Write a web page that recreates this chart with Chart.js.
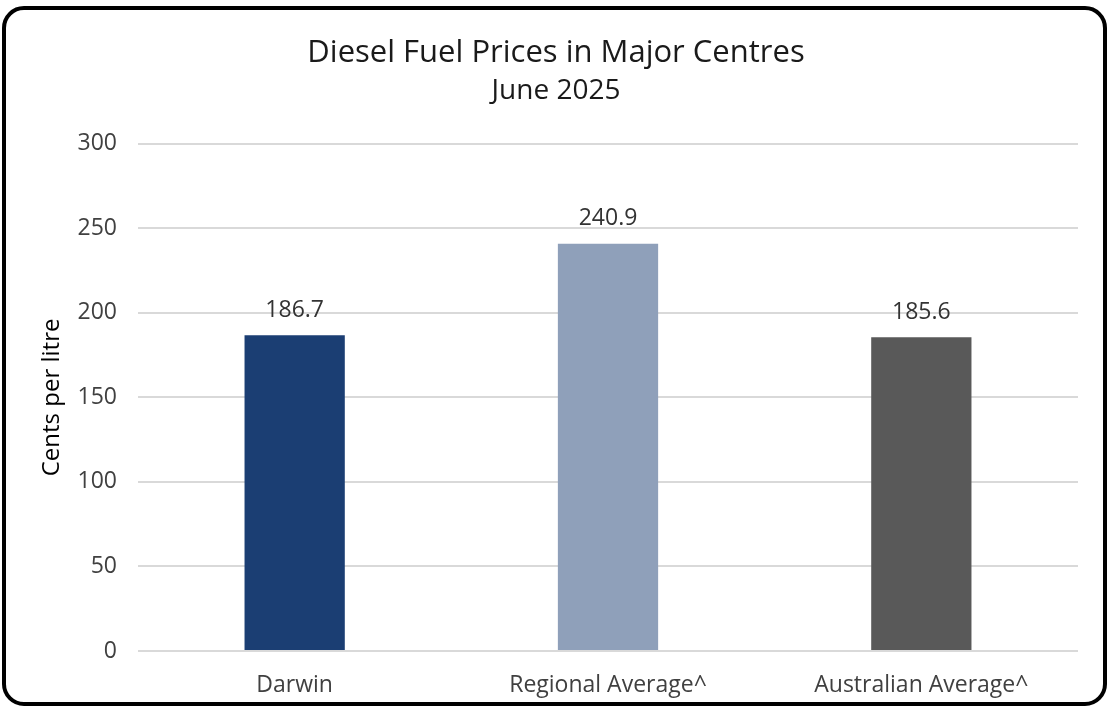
<!DOCTYPE html>
<html lang="en">
<head>
    <meta charset="UTF-8">
    <title>Diesel Fuel Prices in Major Centres</title>
    <script src="https://cdn.jsdelivr.net/npm/chart.js"></script>
    <style>
        body { margin: 0; background: #fff; }
        .wrap { position: absolute; left: 0; top: 0; width: 1110px; height: 711px; }
        .frame {
            position: absolute; left: 2px; top: 6px; width: 1105px; height: 700px;
            box-sizing: border-box; border: 4px solid #000; border-radius: 22px;
            pointer-events: none;
        }
    </style>
</head>
<body>
    <div class="wrap"><canvas id="fuelChart" width="1110" height="711"></canvas></div>
    <div class="frame"></div>
    <script>
        var centres = ['Darwin', 'Regional Average^', 'Australian Average^'];
        var prices = [186.7, 240.9, 185.6];
        var barColours = ['#1b3e73', '#8fa0ba', '#595959'];
        var yTicks = [0, 50, 100, 150, 200, 250, 300];

        // simple value labels above each bar
        var valueLabels = {
            id: 'valueLabels',
            afterDatasetsDraw: function(chart) {
                var ctx = chart.ctx;
                var meta = chart.getDatasetMeta(0);
                ctx.save();
                ctx.font = '23px "Open Sans"';
                ctx.fillStyle = '#333';
                ctx.textAlign = 'center';
                ctx.textBaseline = 'middle';
                meta.data.forEach(function(bar, i) {
                    ctx.fillText(prices[i].toFixed(1), bar.x, bar.y - 25);
                });
                ctx.restore();
            }
        };

        var ctx = document.getElementById('fuelChart').getContext('2d');
        var fuelChart = new Chart(ctx, {
            type: 'bar',
            data: {
                labels: centres,
                datasets: [{
                    data: prices,
                    backgroundColor: barColours,
                    categoryPercentage: 1,
                    barPercentage: 0.32
                }]
            },
            options: {
                responsive: false,
                animation: false,
                layout: { padding: { left: 34, right: 32, top: 0, bottom: 0 } },
                plugins: {
                    legend: { display: false },
                    tooltip: { enabled: false },
                    title: {
                        display: true,
                        text: 'Diesel Fuel Prices in Major Centres',
                        color: '#1a1a1a',
                        font: { family: 'Open Sans', size: 31, weight: 'normal' },
                        padding: { top: 35, bottom: 0 }
                    },
                    subtitle: {
                        display: true,
                        text: 'June 2025',
                        color: '#1a1a1a',
                        font: { family: 'Open Sans', size: 28 },
                        padding: { top: 2, bottom: 36 }
                    }
                },
                scales: {
                    x: {
                        grid: { display: false },
                        border: { display: false },
                        ticks: { color: '#404040', padding: 13, font: { family: 'Open Sans', size: 23 } },
                        afterFit: function(scale) { scale.height = 60; }
                    },
                    y: {
                        min: 0,
                        max: 300,
                        afterBuildTicks: function(scale) {
                            scale.ticks = yTicks.map(function(v) { return { value: v }; });
                        },
                        grid: { color: '#d9d9d9', lineWidth: 2, drawTicks: false },
                        border: { display: false },
                        ticks: { color: '#404040', padding: 21, font: { family: 'Open Sans', size: 23 } },
                        title: {
                            display: true,
                            text: 'Cents per litre',
                            color: '#000',
                            font: { family: 'Open Sans', size: 24 },
                            padding: { top: 4, bottom: 0 }
                        },
                        afterFit: function(scale) { scale.width = 104; }
                    }
                }
            },
            plugins: [valueLabels]
        });
    </script>
</body>
</html>
